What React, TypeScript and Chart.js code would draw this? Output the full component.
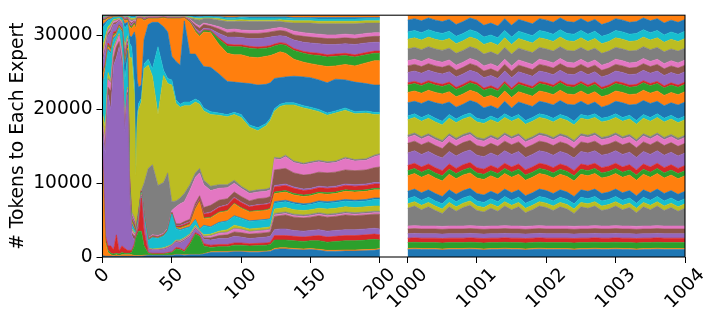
import React, { useEffect, useRef } from "react";
import { Chart, registerables } from "chart.js";

Chart.register(...registerables);

// Total tokens routed per step (stack height)
const TOTAL_TOKENS = 32768;
const N_EXPERTS = 32;

// Tick labels
const xTickValues = [0, 50, 100, 150, 200, 1000, 1001, 1002, 1003, 1004];
const yTickValues = [0, 10000, 20000, 30000];

// tab10 palette, cycled over the experts
const palette = ["#1f77b4", "#ff7f0e", "#2ca02c", "#d62728", "#9467bd", "#8c564b", "#e377c2", "#7f7f7f", "#bcbd22", "#17becf"];

// ---------- left segment: steps 0..200 ----------
const stepsLeft = [0, 2, 4, 6, 8, 10, 12, 14, 16, 18, 19.5, 21, 23, 24, 25, 26, 28, 30, 33, 36, 40, 44, 47, 50, 53, 56, 59, 63, 67, 70, 73, 78, 84, 90, 95, 100, 106, 112, 118, 121, 124, 128, 132, 138, 145, 150, 156, 162, 168, 175, 182, 190, 196, 200];

// cumulative upper edge (tokens) of experts 0..30 at each left step; expert 31 fills to TOTAL_TOKENS
const edgesLeft: number[][] = [
  [200, 12000, 12300, 14000, 17000, 17500, 18000, 18200, 19500, 23000, 23200, 24500, 24700, 25000, 26500, 26800, 27200, 27400, 28500, 31000, 31500, 32000, 32100, 32150, 32250, 32300, 32350, 32400, 32450, 32600, 32700],
  [100, 2000, 2300, 3000, 14000, 14500, 15500, 15700, 17500, 25000, 25300, 25800, 26000, 26300, 28000, 28300, 28800, 29000, 29800, 31500, 31800, 32100, 32200, 32250, 32350, 32400, 32450, 32500, 32550, 32650, 32700],
  [100, 600, 900, 1500, 22000, 23000, 24000, 24200, 25000, 28000, 28200, 28500, 28700, 29000, 30000, 30300, 30600, 30800, 31200, 32000, 32200, 32400, 32450, 32480, 32520, 32550, 32580, 32610, 32640, 32680, 32720],
  [100, 300, 500, 1500, 20000, 22500, 23500, 23700, 24000, 27500, 27700, 28000, 28200, 28500, 30500, 30800, 31100, 31300, 31600, 32200, 32300, 32450, 32500, 32520, 32560, 32590, 32620, 32650, 32680, 32710, 32740],
  [100, 200, 400, 1000, 26000, 27000, 28000, 28200, 28500, 29500, 29700, 30000, 30200, 30500, 31500, 31700, 31900, 32000, 32200, 32450, 32500, 32550, 32580, 32600, 32620, 32640, 32660, 32680, 32700, 32720, 32740],
  [100, 300, 500, 3000, 27000, 28500, 29000, 29200, 29400, 30000, 30100, 30300, 30400, 30600, 31600, 31800, 32000, 32100, 32250, 32450, 32500, 32550, 32580, 32600, 32620, 32640, 32660, 32680, 32700, 32720, 32740],
  [100, 200, 400, 800, 28500, 29200, 30000, 30100, 30300, 31000, 31100, 31300, 31400, 31500, 32000, 32100, 32200, 32250, 32350, 32500, 32550, 32600, 32620, 32640, 32660, 32670, 32680, 32700, 32710, 32730, 32750],
  [100, 300, 600, 1500, 26000, 26500, 27500, 27600, 27800, 30500, 30600, 30800, 30900, 31000, 31500, 31600, 31800, 31900, 32000, 32400, 32500, 32550, 32580, 32600, 32620, 32640, 32660, 32680, 32700, 32720, 32740],
  [100, 300, 500, 1200, 17000, 17300, 17800, 17900, 18300, 24000, 26000, 26300, 26500, 26700, 27200, 27400, 27700, 27800, 28500, 31000, 31600, 32000, 32100, 32200, 32300, 32350, 32400, 32450, 32500, 32600, 32700],
  [100, 300, 500, 900, 22000, 22300, 22700, 22800, 23000, 27000, 28000, 28300, 28500, 28700, 29000, 29200, 29500, 29600, 30000, 31500, 31800, 32100, 32200, 32300, 32400, 32450, 32500, 32550, 32600, 32650, 32700],
  [100, 300, 500, 900, 8000, 8300, 8600, 8700, 8900, 9300, 9600, 9800, 10000, 10200, 10500, 10700, 10900, 11000, 27000, 29000, 30000, 31200, 31400, 31500, 31700, 31900, 32100, 32300, 32450, 32600, 32700],
  [100, 300, 600, 900, 3000, 3300, 3600, 3700, 3900, 4300, 4600, 4800, 5000, 5200, 5500, 5700, 5900, 6100, 27000, 28500, 29800, 31000, 31200, 31300, 31500, 31700, 31900, 32100, 32300, 32500, 32650],
  [100, 200, 1500, 1800, 2200, 2800, 3000, 3100, 3300, 3600, 3800, 4000, 4200, 4400, 4600, 4800, 5000, 5300, 22000, 23500, 30500, 31500, 31700, 31800, 31900, 32000, 32100, 32200, 32350, 32500, 32650],
  [100, 200, 2500, 2800, 3000, 3100, 3150, 3200, 3250, 3300, 3350, 3400, 3450, 3500, 3550, 3580, 3600, 3620, 11000, 11500, 29500, 31000, 31200, 31400, 31600, 31800, 32000, 32200, 32400, 32550, 32680],
  [100, 200, 3000, 3400, 3600, 3800, 3900, 4000, 4100, 4300, 4400, 4500, 4600, 4700, 4800, 4900, 5000, 5100, 18000, 18800, 24000, 32300, 32350, 32400, 32450, 32500, 32550, 32600, 32650, 32700, 32740],
  [100, 200, 3500, 4000, 4200, 4400, 4500, 4700, 4900, 5200, 5400, 5600, 5700, 5800, 5900, 6000, 6100, 6200, 20000, 20800, 23000, 32300, 32350, 32400, 32450, 32500, 32550, 32600, 32650, 32700, 32740],
  [100, 200, 3500, 8000, 8200, 8300, 8400, 8500, 8600, 8700, 8750, 8800, 8850, 8900, 8950, 8980, 9000, 9020, 21000, 21500, 23300, 32300, 32350, 32400, 32450, 32500, 32550, 32600, 32650, 32700, 32740],
  [150, 250, 1500, 3500, 4500, 4600, 4700, 4800, 4900, 5500, 5600, 5650, 5700, 5750, 5800, 5850, 6000, 10000, 25500, 26200, 29500, 32000, 32100, 32200, 32300, 32400, 32450, 32500, 32550, 32650, 32720],
  [200, 250, 500, 600, 1000, 1050, 1100, 1150, 1200, 2200, 2300, 2350, 2400, 2450, 2500, 2550, 2600, 12000, 26000, 26800, 31500, 32300, 32350, 32400, 32450, 32500, 32550, 32600, 32650, 32700, 32740],
  [200, 250, 400, 500, 900, 950, 1000, 1050, 1100, 2600, 2650, 2700, 2750, 2800, 2850, 2900, 3000, 12500, 24500, 25500, 31800, 32300, 32350, 32400, 32450, 32500, 32550, 32600, 32650, 32700, 32740],
  [200, 250, 400, 500, 900, 950, 1000, 1050, 1150, 2500, 2550, 2600, 2650, 2700, 2750, 2800, 2900, 9700, 19300, 28500, 31800, 32300, 32350, 32400, 32450, 32500, 32550, 32600, 32650, 32700, 32740],
  [200, 250, 400, 500, 1000, 1050, 1100, 1150, 1250, 2800, 2850, 2900, 2950, 3000, 3050, 3100, 3200, 10100, 24600, 25300, 31200, 32400, 32450, 32480, 32520, 32550, 32580, 32610, 32640, 32680, 32720],
  [200, 250, 500, 600, 1200, 1250, 1300, 1350, 1450, 3500, 3550, 3600, 3650, 3700, 3750, 3800, 3900, 11400, 23500, 24200, 30500, 32300, 32350, 32400, 32450, 32500, 32550, 32600, 32650, 32700, 32740],
  [200, 250, 600, 700, 1500, 1550, 1600, 1650, 1700, 5800, 5850, 5900, 5950, 6000, 6050, 6100, 6300, 7500, 23300, 24000, 27200, 32300, 32350, 32380, 32420, 32460, 32500, 32550, 32600, 32650, 32700],
  [300, 350, 1100, 1300, 2000, 2100, 2150, 2200, 2300, 3800, 3900, 4000, 4050, 4200, 4300, 4500, 6800, 7600, 20800, 21300, 26500, 32300, 32350, 32380, 32420, 32460, 32500, 32550, 32600, 32650, 32700],
  [300, 350, 1000, 1200, 1900, 2000, 2100, 2200, 2300, 3600, 3700, 3900, 4000, 4200, 4300, 4500, 7200, 8000, 20300, 20700, 26000, 32300, 32350, 32380, 32420, 32460, 32500, 32550, 32600, 32650, 32700],
  [250, 300, 700, 900, 2200, 2300, 2400, 2500, 2600, 3800, 3900, 4100, 4200, 4400, 4500, 4800, 7500, 8600, 20500, 21000, 32000, 32400, 32420, 32450, 32480, 32510, 32540, 32570, 32600, 32650, 32700],
  [300, 350, 1700, 2000, 2700, 2800, 2900, 3000, 3100, 4000, 4100, 4400, 4500, 4700, 4800, 5100, 9000, 9800, 20500, 21000, 27500, 31800, 31900, 31950, 32050, 32150, 32250, 32400, 32500, 32600, 32680],
  [300, 350, 3100, 3300, 3800, 3900, 4000, 4100, 4300, 5000, 5100, 6500, 6600, 6800, 6900, 7300, 10800, 11400, 21000, 21400, 27500, 30500, 30700, 30800, 31000, 31400, 31600, 32200, 32350, 32500, 32650],
  [300, 350, 2800, 3000, 3300, 3400, 3500, 3550, 3600, 3700, 3800, 7500, 7600, 7800, 7900, 8300, 11400, 12000, 20700, 21100, 26600, 29900, 30100, 30200, 30500, 31000, 31300, 32100, 32300, 32450, 32600],
  [400, 450, 1500, 1800, 2400, 2600, 2700, 2800, 3000, 4200, 4300, 5200, 5300, 5800, 5900, 6700, 9800, 10400, 19800, 20200, 25800, 30500, 30700, 30800, 31000, 31500, 31700, 32300, 32400, 32550, 32650],
  [600, 700, 1300, 1600, 2300, 2600, 2800, 2900, 3100, 4000, 4100, 5300, 5400, 6000, 6100, 7000, 9000, 9600, 19300, 19700, 25700, 30400, 30600, 30700, 30900, 31300, 31500, 32300, 32400, 32550, 32650],
  [650, 750, 1400, 1700, 2500, 2900, 3200, 3300, 3500, 4600, 4700, 6000, 6100, 6700, 6800, 7700, 9300, 9800, 19200, 19500, 24800, 28800, 29500, 29700, 30300, 30900, 31200, 32100, 32300, 32450, 32600],
  [650, 750, 1400, 1700, 2500, 3000, 3300, 3400, 3700, 4800, 4900, 6200, 6300, 7000, 7100, 7900, 9400, 9800, 19000, 19300, 23800, 27600, 28600, 28850, 29800, 30400, 30800, 31900, 32100, 32350, 32500],
  [700, 800, 1600, 1900, 2800, 3400, 3800, 3900, 4300, 5500, 5600, 7200, 7300, 8000, 8100, 8800, 10000, 10400, 19300, 19600, 23700, 27400, 28500, 28750, 29800, 30500, 30900, 31900, 32100, 32350, 32500],
  [700, 800, 1600, 1900, 2700, 3300, 3700, 3800, 4100, 5200, 5300, 6600, 6700, 7400, 7500, 8200, 9300, 9600, 18900, 19300, 23600, 27400, 28500, 28750, 29750, 30350, 30750, 31950, 32150, 32450, 32550],
  [650, 750, 1500, 1800, 2500, 3100, 3400, 3500, 3800, 4800, 4900, 6100, 6200, 6800, 6900, 7600, 8600, 8900, 17600, 17900, 23500, 27100, 28300, 28550, 29600, 30300, 30700, 31900, 32100, 32400, 32550],
  [650, 750, 1550, 1850, 2600, 3200, 3500, 3600, 3900, 4900, 5000, 6200, 6300, 7000, 7100, 7900, 8800, 9100, 17100, 17500, 23300, 27000, 28200, 28450, 29600, 30300, 30700, 31900, 32100, 32400, 32550],
  [700, 800, 1600, 1900, 2700, 3300, 3600, 3700, 4000, 5000, 5100, 6300, 6400, 7100, 7200, 8000, 8900, 9200, 17800, 18100, 23400, 27200, 28300, 28550, 29700, 30400, 30800, 31900, 32100, 32400, 32550],
  [750, 850, 1700, 2000, 2800, 3400, 3700, 3800, 4100, 5100, 5200, 6500, 6600, 7300, 7400, 8200, 9100, 9400, 18500, 18800, 23600, 27300, 28400, 28650, 29800, 30500, 30900, 31900, 32100, 32400, 32550],
  [1000, 1150, 2300, 2900, 3700, 5500, 5700, 5900, 6500, 7300, 7500, 8600, 8800, 9500, 9700, 11800, 13300, 13500, 19800, 20100, 24200, 27500, 28600, 28850, 29900, 30600, 31000, 31900, 32100, 32400, 32550],
  [1100, 1250, 2300, 2900, 3800, 5600, 5800, 6000, 6600, 7400, 7600, 8700, 8900, 9600, 9800, 11900, 13200, 13400, 20400, 20700, 24300, 27800, 28800, 29050, 30000, 30700, 31100, 31900, 32150, 32400, 32550],
  [1100, 1250, 2300, 2900, 3800, 5700, 5900, 6100, 6700, 7500, 7700, 8800, 9000, 9700, 9900, 12000, 13600, 13800, 20600, 20900, 24400, 27600, 28700, 28950, 29900, 30600, 31000, 31800, 32100, 32400, 32550],
  [1000, 1150, 2200, 2800, 3600, 5400, 5600, 5800, 6400, 7200, 7400, 8400, 8600, 9300, 9500, 11400, 12800, 13000, 20600, 20900, 24500, 26800, 28000, 28250, 29400, 30100, 30600, 31700, 32000, 32300, 32450],
  [950, 1100, 2100, 2700, 3500, 5300, 5500, 5700, 6300, 7000, 7200, 8200, 8400, 9000, 9200, 11100, 12500, 12700, 20200, 20500, 24400, 26400, 27600, 27850, 29100, 29900, 30400, 31700, 32000, 32300, 32450],
  [1000, 1150, 2200, 2800, 3600, 5400, 5600, 5800, 6400, 7100, 7300, 8300, 8500, 9100, 9300, 11200, 12700, 12900, 20000, 20300, 24300, 26200, 27400, 27700, 29000, 29800, 30300, 31700, 32000, 32300, 32450],
  [900, 1050, 2200, 2900, 3700, 5600, 5800, 6000, 6600, 7400, 7600, 8600, 8800, 9400, 9600, 11500, 12900, 13100, 19700, 20000, 24000, 26000, 27300, 27600, 28900, 29700, 30200, 31600, 31950, 32250, 32450],
  [750, 900, 2000, 2700, 3500, 5400, 5600, 5800, 6500, 7300, 7500, 8500, 8700, 9300, 9500, 11400, 12700, 12900, 19200, 19500, 23600, 25800, 27100, 27400, 28800, 29600, 30100, 31600, 31950, 32250, 32450],
  [750, 900, 2100, 2800, 3600, 5500, 5700, 5900, 6600, 7400, 7600, 8600, 8800, 9400, 9600, 11500, 12800, 13000, 19500, 19800, 24100, 25900, 27200, 27500, 28800, 29600, 30100, 31600, 31950, 32250, 32450],
  [800, 950, 2200, 2900, 3700, 5700, 5900, 6100, 6800, 7600, 7800, 8900, 9100, 9700, 9900, 11800, 13300, 13500, 19900, 20200, 24000, 26100, 27300, 27600, 28900, 29700, 30200, 31600, 31950, 32250, 32450],
  [800, 950, 2200, 2900, 3700, 5600, 5800, 6000, 6700, 7500, 7700, 8800, 9000, 9600, 9800, 11700, 13000, 13200, 19400, 19700, 23700, 25900, 27100, 27400, 28800, 29600, 30100, 31600, 31950, 32250, 32450],
  [850, 1000, 2300, 3000, 3800, 5700, 5900, 6100, 6800, 7600, 7800, 8900, 9100, 9700, 9900, 11800, 13100, 13300, 19500, 19800, 23500, 26300, 27400, 27700, 29000, 29800, 30300, 31700, 32000, 32300, 32450],
  [900, 1050, 2400, 3100, 3900, 5800, 6000, 6200, 6900, 7800, 8000, 9100, 9300, 9900, 10100, 12100, 13600, 13800, 19300, 19600, 23300, 26600, 27600, 27900, 29100, 29900, 30400, 31700, 32000, 32300, 32450],
  [1000, 1150, 2300, 3000, 3800, 5800, 6000, 6200, 6900, 7800, 8000, 9100, 9300, 9900, 10100, 12200, 13800, 14000, 19300, 19600, 23300, 26600, 27600, 27900, 29100, 29900, 30400, 31700, 32000, 32300, 32450],
];

// ---------- right segment: steps 1000..1004 ----------
const stepsRight = [
  1000, 1000.1, 1000.2, 1000.3, 1000.4, 1000.5, 1000.6, 1000.7, 1000.8, 1000.9,
  1001, 1001.1, 1001.2, 1001.3, 1001.4, 1001.5, 1001.6, 1001.7, 1001.8, 1001.9,
  1002, 1002.1, 1002.2, 1002.3, 1002.4, 1002.5, 1002.6, 1002.7, 1002.8, 1002.9,
  1003, 1003.1, 1003.2, 1003.3, 1003.4, 1003.5, 1003.6, 1003.7, 1003.8, 1003.9, 1004,
];

const edgesRight: number[][] = [
  [1000, 1150, 1950, 2550, 3150, 3800, 4200, 6600, 7200, 7900, 8900, 11000, 11700, 12400, 14100, 15400, 16200, 16500, 18600, 19100, 20900, 22300, 23300, 23600, 25000, 25900, 26600, 28200, 29500, 30500, 32100],
  [1050, 1200, 2000, 2600, 3200, 3850, 4250, 6900, 7500, 8200, 9200, 11300, 12000, 12700, 14400, 15700, 16500, 16800, 18900, 19400, 21100, 22500, 23500, 23800, 25200, 26100, 26800, 28400, 29700, 30700, 32300],
  [1000, 1150, 1950, 2550, 3150, 3800, 4200, 6400, 7000, 7700, 8700, 10800, 11500, 12200, 13900, 15200, 16000, 16300, 18400, 18900, 20800, 22200, 23200, 23500, 24900, 25800, 26500, 28100, 29400, 30400, 32000],
  [1000, 1150, 1950, 2550, 3150, 3800, 4200, 6800, 7400, 8100, 9100, 11200, 11900, 12600, 14300, 15600, 16400, 16700, 18800, 19300, 21200, 22600, 23600, 23900, 25300, 26200, 26900, 28500, 29800, 30800, 32400],
  [1000, 1150, 1950, 2550, 3150, 3800, 4200, 6300, 6900, 7600, 8600, 10700, 11400, 12100, 13800, 15100, 15900, 16200, 18300, 18800, 20900, 22300, 23300, 23600, 25000, 25900, 26600, 28200, 29500, 30500, 32100],
  [950, 1100, 1900, 2500, 3100, 3750, 4150, 5900, 6500, 7200, 8200, 10300, 11000, 11700, 13400, 14700, 15500, 15800, 17900, 18400, 20700, 22100, 23100, 23400, 24800, 25700, 26400, 28000, 29300, 30300, 31900],
  [1000, 1150, 1950, 2550, 3150, 3800, 4200, 6800, 7400, 8100, 9100, 11200, 11900, 12600, 14300, 15600, 16400, 16700, 18800, 19300, 21000, 22400, 23400, 23700, 25100, 26000, 26700, 28300, 29600, 30600, 32200],
  [1000, 1150, 1950, 2550, 3150, 3800, 4200, 6200, 6800, 7500, 8500, 10600, 11300, 12000, 13700, 15000, 15800, 16100, 18200, 18700, 20300, 21700, 22700, 23000, 24400, 25300, 26000, 27600, 28900, 29900, 31500],
  [1000, 1150, 1950, 2550, 3150, 3800, 4200, 6700, 7300, 8000, 9000, 11100, 11800, 12500, 14200, 15500, 16300, 16600, 18700, 19200, 20700, 22100, 23100, 23400, 24800, 25700, 26400, 28000, 29300, 30300, 31900],
  [1050, 1200, 2000, 2600, 3200, 3850, 4250, 7000, 7600, 8300, 9300, 11400, 12100, 12800, 14500, 15800, 16600, 16900, 19000, 19500, 21200, 22600, 23600, 23900, 25300, 26200, 26900, 28500, 29800, 30800, 32400],
  [1000, 1150, 1950, 2550, 3150, 3800, 4200, 6300, 6900, 7600, 8600, 10700, 11400, 12100, 13800, 15100, 15900, 16200, 18300, 18800, 20900, 22300, 23300, 23600, 25000, 25900, 26600, 28200, 29500, 30500, 32100],
  [950, 1100, 1900, 2500, 3100, 3750, 4150, 6100, 6700, 7400, 8400, 10500, 11200, 11900, 13600, 14900, 15700, 16000, 18100, 18600, 20200, 21600, 22600, 22900, 24300, 25200, 25900, 27500, 28800, 29800, 31400],
  [1000, 1150, 1950, 2550, 3150, 3800, 4200, 6600, 7200, 7900, 8900, 11000, 11700, 12400, 14100, 15400, 16200, 16500, 18600, 19100, 20500, 21900, 22900, 23200, 24600, 25500, 26200, 27800, 29100, 30100, 31700],
  [1000, 1150, 1950, 2550, 3150, 3800, 4200, 6200, 6800, 7500, 8500, 10600, 11300, 12000, 13700, 15000, 15800, 16100, 18200, 18700, 20100, 21500, 22500, 22800, 24200, 25100, 25800, 27400, 28700, 29700, 31300],
  [1050, 1200, 2000, 2600, 3200, 3850, 4250, 6900, 7500, 8200, 9200, 11300, 12000, 12700, 14400, 15700, 16500, 16800, 18900, 19400, 21100, 22500, 23500, 23800, 25200, 26100, 26800, 28400, 29700, 30700, 32300],
  [1000, 1150, 1950, 2550, 3150, 3800, 4200, 6400, 7000, 7700, 8700, 10800, 11500, 12200, 13900, 15200, 16000, 16300, 18400, 18900, 20200, 21600, 22600, 22900, 24300, 25200, 25900, 27500, 28800, 29800, 31400],
  [1000, 1150, 1950, 2550, 3150, 3800, 4200, 6800, 7400, 8100, 9100, 11200, 11900, 12600, 14300, 15600, 16400, 16700, 18800, 19300, 21000, 22400, 23400, 23700, 25100, 26000, 26700, 28300, 29600, 30600, 32200],
  [950, 1100, 1900, 2500, 3100, 3750, 4150, 6000, 6600, 7300, 8300, 10400, 11100, 11800, 13500, 14800, 15600, 15900, 18000, 18500, 20700, 22100, 23100, 23400, 24800, 25700, 26400, 28000, 29300, 30300, 31900],
  [1000, 1150, 1950, 2550, 3150, 3800, 4200, 6400, 7000, 7700, 8700, 10800, 11500, 12200, 13900, 15200, 16000, 16300, 18400, 18900, 20400, 21800, 22800, 23100, 24500, 25400, 26100, 27700, 29000, 30000, 31600],
  [1050, 1200, 2000, 2600, 3200, 3850, 4250, 6900, 7500, 8200, 9200, 11300, 12000, 12700, 14400, 15700, 16500, 16800, 18900, 19400, 21100, 22500, 23500, 23800, 25200, 26100, 26800, 28400, 29700, 30700, 32300],
  [1000, 1150, 1950, 2550, 3150, 3800, 4200, 6700, 7300, 8000, 9000, 11100, 11800, 12500, 14200, 15500, 16300, 16600, 18700, 19200, 20900, 22300, 23300, 23600, 25000, 25900, 26600, 28200, 29500, 30500, 32100],
  [1000, 1150, 1950, 2550, 3150, 3800, 4200, 6300, 6900, 7600, 8600, 10700, 11400, 12100, 13800, 15100, 15900, 16200, 18300, 18800, 20600, 22000, 23000, 23300, 24700, 25600, 26300, 27900, 29200, 30200, 31800],
  [1000, 1150, 1950, 2550, 3150, 3800, 4200, 6800, 7400, 8100, 9100, 11200, 11900, 12600, 14300, 15600, 16400, 16700, 18800, 19300, 21200, 22600, 23600, 23900, 25300, 26200, 26900, 28500, 29800, 30800, 32400],
  [1000, 1150, 1950, 2550, 3150, 3800, 4200, 6500, 7100, 7800, 8800, 10900, 11600, 12300, 14000, 15300, 16100, 16400, 18500, 19000, 20700, 22100, 23100, 23400, 24800, 25700, 26400, 28000, 29300, 30300, 31900],
  [950, 1100, 1900, 2500, 3100, 3750, 4150, 5900, 6500, 7200, 8200, 10300, 11000, 11700, 13400, 14700, 15500, 15800, 17900, 18400, 20600, 22000, 23000, 23300, 24700, 25600, 26300, 27900, 29200, 30200, 31800],
  [1000, 1150, 1950, 2550, 3150, 3800, 4200, 6800, 7400, 8100, 9100, 11200, 11900, 12600, 14300, 15600, 16400, 16700, 18800, 19300, 21100, 22500, 23500, 23800, 25200, 26100, 26800, 28400, 29700, 30700, 32300],
  [1000, 1150, 1950, 2550, 3150, 3800, 4200, 6600, 7200, 7900, 8900, 11000, 11700, 12400, 14100, 15400, 16200, 16500, 18600, 19100, 20600, 22000, 23000, 23300, 24700, 25600, 26300, 27900, 29200, 30200, 31800],
  [1050, 1200, 2000, 2600, 3200, 3850, 4250, 6900, 7500, 8200, 9200, 11300, 12000, 12700, 14400, 15700, 16500, 16800, 18900, 19400, 21000, 22400, 23400, 23700, 25100, 26000, 26700, 28300, 29600, 30600, 32200],
  [1000, 1150, 1950, 2550, 3150, 3800, 4200, 6300, 6900, 7600, 8600, 10700, 11400, 12100, 13800, 15100, 15900, 16200, 18300, 18800, 20300, 21700, 22700, 23000, 24400, 25300, 26000, 27600, 28900, 29900, 31500],
  [1000, 1150, 1950, 2550, 3150, 3800, 4200, 6500, 7100, 7800, 8800, 10900, 11600, 12300, 14000, 15300, 16100, 16400, 18500, 19000, 20600, 22000, 23000, 23300, 24700, 25600, 26300, 27900, 29200, 30200, 31800],
  [1050, 1200, 2000, 2600, 3200, 3850, 4250, 6900, 7500, 8200, 9200, 11300, 12000, 12700, 14400, 15700, 16500, 16800, 18900, 19400, 21100, 22500, 23500, 23800, 25200, 26100, 26800, 28400, 29700, 30700, 32300],
  [1000, 1150, 1950, 2550, 3150, 3800, 4200, 6400, 7000, 7700, 8700, 10800, 11500, 12200, 13900, 15200, 16000, 16300, 18400, 18900, 20900, 22300, 23300, 23600, 25000, 25900, 26600, 28200, 29500, 30500, 32100],
  [1000, 1150, 1950, 2550, 3150, 3800, 4200, 6700, 7300, 8000, 9000, 11100, 11800, 12500, 14200, 15500, 16300, 16600, 18700, 19200, 20600, 22000, 23000, 23300, 24700, 25600, 26300, 27900, 29200, 30200, 31800],
  [950, 1100, 1900, 2500, 3100, 3750, 4150, 6000, 6600, 7300, 8300, 10400, 11100, 11800, 13500, 14800, 15600, 15900, 18000, 18500, 20700, 22100, 23100, 23400, 24800, 25700, 26400, 28000, 29300, 30300, 31900],
  [1000, 1150, 1950, 2550, 3150, 3800, 4200, 6800, 7400, 8100, 9100, 11200, 11900, 12600, 14300, 15600, 16400, 16700, 18800, 19300, 21200, 22600, 23600, 23900, 25300, 26200, 26900, 28500, 29800, 30800, 32400],
  [1000, 1150, 1950, 2550, 3150, 3800, 4200, 6400, 7000, 7700, 8700, 10800, 11500, 12200, 13900, 15200, 16000, 16300, 18400, 18900, 20800, 22200, 23200, 23500, 24900, 25800, 26500, 28100, 29400, 30400, 32000],
  [1050, 1200, 2000, 2600, 3200, 3850, 4250, 6900, 7500, 8200, 9200, 11300, 12000, 12700, 14400, 15700, 16500, 16800, 18900, 19400, 21100, 22500, 23500, 23800, 25200, 26100, 26800, 28400, 29700, 30700, 32300],
  [1000, 1150, 1950, 2550, 3150, 3800, 4200, 6300, 6900, 7600, 8600, 10700, 11400, 12100, 13800, 15100, 15900, 16200, 18300, 18800, 20500, 21900, 22900, 23200, 24600, 25500, 26200, 27800, 29100, 30100, 31700],
  [1000, 1150, 1950, 2550, 3150, 3800, 4200, 6700, 7300, 8000, 9000, 11100, 11800, 12500, 14200, 15500, 16300, 16600, 18700, 19200, 20900, 22300, 23300, 23600, 25000, 25900, 26600, 28200, 29500, 30500, 32100],
  [1000, 1150, 1950, 2550, 3150, 3800, 4200, 6200, 6800, 7500, 8500, 10600, 11300, 12000, 13700, 15000, 15800, 16100, 18200, 18700, 20600, 22000, 23000, 23300, 24700, 25600, 26300, 27900, 29200, 30200, 31800],
  [1000, 1150, 1950, 2550, 3150, 3800, 4200, 6600, 7200, 7900, 8900, 11000, 11700, 12400, 14100, 15400, 16200, 16500, 18600, 19100, 21000, 22400, 23400, 23700, 25100, 26000, 26700, 28300, 29600, 30600, 32200],
];

// broken x axis: steps 0..200, a gap, then steps 1000..1004 (each unit of the second part = 50 axis units)
const GAP_UNITS = 20;
const RIGHT_UNITS_PER_STEP = 50;
const axisPos = (step: number) => (step <= 200 ? step : 200 + GAP_UNITS + (step - 1000) * RIGHT_UNITS_PER_STEP);

const FONT = '18.67px "DejaVu Sans"';

function buildDatasets() {
  const sets: any[] = [];
  const segs = [
    { steps: stepsLeft, edges: edgesLeft },
    { steps: stepsRight, edges: edgesRight },
  ];
  segs.forEach((seg) => {
    for (let e = 0; e < N_EXPERTS; e++) {
      const color = palette[e % 10];
      sets.push({
        label: `Expert ${e}`,
        data: seg.steps.map((s, k) => ({ x: axisPos(s), y: e < N_EXPERTS - 1 ? seg.edges[k][e] : TOTAL_TOKENS })),
        fill: e === 0 ? "origin" : "-1",
        backgroundColor: color,
        borderColor: color,
        borderWidth: 0.6,
        pointRadius: 0,
        pointHoverRadius: 0,
        tension: 0,
      });
    }
  });
  return sets;
}

const decorPlugin = {
  id: "decor",
  afterDraw(chart: any) {
    const { ctx, chartArea: a, scales } = chart;
    const x = scales.x;
    ctx.save();
    // frame
    ctx.strokeStyle = "#000";
    ctx.lineWidth = 1.07;
    ctx.strokeRect(a.left, a.top, a.right - a.left, a.bottom - a.top);
    // x tick labels, rotated 45°, centred on the tick
    ctx.fillStyle = "#000";
    ctx.font = FONT;
    ctx.textAlign = "center";
    ctx.textBaseline = "middle";
    xTickValues.forEach((v) => {
      const px = x.getPixelForValue(axisPos(v));
      const label = String(v);
      const w = ctx.measureText(label).width;
      const cy = a.bottom + 15 + w * 0.3536;
      ctx.save();
      ctx.translate(px, cy);
      ctx.rotate(-Math.PI / 4);
      ctx.fillText(label, 0, 0);
      ctx.restore();
    });
    // y axis title
    ctx.save();
    ctx.translate(18, (a.top + a.bottom) / 2);
    ctx.rotate(-Math.PI / 2);
    ctx.fillText("# Tokens to Each Expert", 0, 0);
    ctx.restore();
    ctx.restore();
  },
};

export default function App() {
  const ref = useRef<HTMLCanvasElement | null>(null);
  useEffect(() => {
    if (!ref.current) return;
    const chart = new Chart(ref.current, {
      type: "line",
      data: { datasets: buildDatasets() },
      options: {
        responsive: false,
        animation: false,
        events: [],
        layout: { padding: { top: 8, right: 33, left: 0, bottom: 0 } },
        plugins: { legend: { display: false }, tooltip: { enabled: false } },
        scales: {
          x: {
            type: "linear",
            min: 0,
            max: axisPos(1004),
            afterBuildTicks: (s: any) => {
              s.ticks = xTickValues.map((v) => ({ value: axisPos(v) }));
            },
            afterFit: (s: any) => {
              s.height = 64;
            },
            ticks: { display: false },
            grid: { drawOnChartArea: false, drawTicks: true, tickLength: 6, color: "#000", lineWidth: 1 },
            border: { display: false },
          },
          y: {
            type: "linear",
            min: 0,
            max: TOTAL_TOKENS,
            afterBuildTicks: (s: any) => {
              s.ticks = yTickValues.map((v) => ({ value: v }));
            },
            afterFit: (s: any) => {
              s.width = 102.5;
            },
            ticks: {
              color: "#000",
              padding: 4,
              font: { family: "DejaVu Sans", size: 18.67 },
              callback: (v: any) => String(v),
            },
            grid: { drawOnChartArea: false, drawTicks: true, tickLength: 6, color: "#000", lineWidth: 1 },
            border: { display: false },
          },
        },
      },
      plugins: [decorPlugin],
    });
    return () => chart.destroy();
  }, []);
  return (
    <div style={{ position: "fixed", left: 0, top: 0, width: 718, height: 321, background: "#fff" }}>
      <canvas ref={ref} width={718} height={321} style={{ width: 718, height: 321, display: "block" }} />
    </div>
  );
}
